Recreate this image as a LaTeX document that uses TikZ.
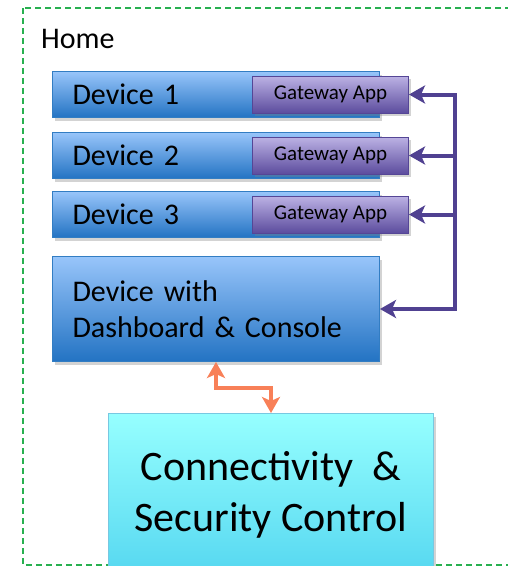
\documentclass[tikz,border=0pt]{standalone}
\usepackage{fontspec}
\setmainfont{Carlito}
\usetikzlibrary{positioning,shadows,arrows.meta,calc}

\definecolor{homegreen}{RGB}{40,176,80}
\definecolor{devtop}{RGB}{152,197,250}
\definecolor{devbot}{RGB}{35,115,195}
\definecolor{devedge}{RGB}{50,125,195}
\definecolor{gwtop}{RGB}{188,178,228}
\definecolor{gwbot}{RGB}{92,76,158}
\definecolor{gwedge}{RGB}{85,70,150}
\definecolor{buscol}{RGB}{80,65,145}
\definecolor{contop}{RGB}{150,255,255}
\definecolor{conbot}{RGB}{85,215,240}
\definecolor{conedge}{RGB}{120,200,225}
\definecolor{linkcol}{RGB}{248,128,88}

\tikzset{
  boxshadow/.style={drop shadow={opacity=0.35, shadow xshift=2pt, shadow yshift=-3pt}},
  device/.style={rectangle, draw=devedge, line width=1pt, top color=devtop, bottom color=devbot,
    minimum height=46pt, text width=287pt, inner xsep=20pt, inner ysep=2pt, align=left,
    font=\fontsize{30}{36.6}\selectfont, boxshadow},
  gateway/.style={rectangle, draw=gwedge, line width=1pt, top color=gwtop, bottom color=gwbot,
    minimum width=156pt, minimum height=37pt, inner sep=0pt,
    font=\fontsize{21}{25}\selectfont, boxshadow},
  security/.style={rectangle, draw=conedge, line width=1pt, top color=contop, bottom color=conbot,
    minimum width=325pt, minimum height=163pt, align=center,
    font=\fontsize{42}{51}\selectfont, boxshadow},
  bus/.style={draw=buscol, line width=4pt},
  link/.style={draw=linkcol, line width=4pt}
}

\begin{document}
\begin{tikzpicture}[x=1pt, y=-1pt, >={Stealth[length=16pt, width=18pt, inset=4pt]}]
\useasboundingbox (0,0) rectangle (508,566);
\clip (0,0) rectangle (508,566);

% home frame
\draw[homegreen, line width=1.5pt, dash pattern=on 6pt off 4pt] (23,8) rectangle (540,565);
\node[anchor=base west, inner sep=0pt, font=\fontsize{30}{36}\selectfont] (home) at (41,48) {Home};

% devices
\node[device, anchor=north west] (dev1) at (52,71) {Device 1};
\node[device, below right=14pt and 0pt of dev1.south west] (dev2) {Device 2};
\node[device, below right=12pt and 0pt of dev2.south west] (dev3) {Device 3};
\node[device, minimum height=105pt, below right=18pt and 0pt of dev3.south west] (dash) {Device with\\Dashboard \& Console};
\foreach \i in {1,2,3}
  \node[gateway, anchor=east] (gw\i) at ([xshift=29pt]dev\i.east) {Gateway App};

% connectivity
\node[security, anchor=north west] (con) at (108,413) {Connectivity \ \&\\Security Control};

% gateway bus
\coordinate (bus) at ([xshift=75pt]dash.east);
\draw[bus, <->] (gw1.east) -| (bus) -- (dash.east);
\draw[bus, ->] (gw2.east -| bus) -- (gw2.east);
\draw[bus, ->] (gw3.east -| bus) -- (gw3.east);

% dashboard link
\draw[link, <->] (dash.south) |- ($(dash.south)!0.5!(con.north)$) -| (con.north);
\end{tikzpicture}
\end{document}
